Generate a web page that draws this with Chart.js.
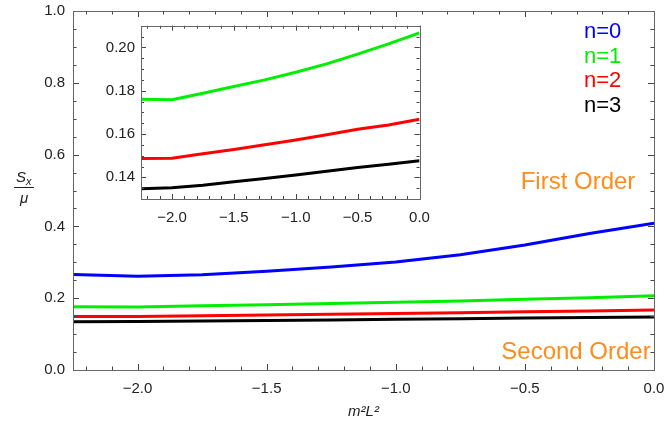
<!DOCTYPE html>
<html>
<head>
<meta charset="utf-8">
<script src="https://cdn.jsdelivr.net/npm/chart.js@4"></script>
<style>
  body { margin: 0; background: #fff; }
  #wrap { position: relative; width: 664px; height: 431px; }
  #main { position: absolute; left: 0; top: 0; }
  #inset { position: absolute; left: 90px; top: 15px; }
</style>
</head>
<body>
<div id="wrap">
  <canvas id="main" width="664" height="431"></canvas>
  <canvas id="inset" width="340" height="220"></canvas>
</div>
<script>
const xVals = [-2.25, -2.0, -1.75, -1.5, -1.25, -1.0, -0.75, -0.5, -0.25, 0];
const n0 = [0.266, 0.261, 0.265, 0.275, 0.287, 0.301, 0.321, 0.348, 0.380, 0.409];
const n1 = [0.1761, 0.1758, 0.1788, 0.1819, 0.1850, 0.1885, 0.1924, 0.1969, 0.2016, 0.2067];
const n2 = [0.1487, 0.1488, 0.1509, 0.1529, 0.1550, 0.1572, 0.1597, 0.1622, 0.1642, 0.1668];
const n3 = [0.1347, 0.1352, 0.1364, 0.1380, 0.1395, 0.1411, 0.1428, 0.1445, 0.1460, 0.1477];

const xMajor = [-2.0, -1.5, -1.0, -0.5, 0];
const yMajor = [0, 0.2, 0.4, 0.6, 0.8, 1.0];
const insetYMajor = [0.14, 0.16, 0.18, 0.20];

const FONT = '"Liberation Sans", Arial, sans-serif';
const colors = ['#0000ff', '#00ee00', '#ff0000', '#000000'];
const labels = ['n=0', 'n=1', 'n=2', 'n=3'];

function range(a, b, step) {
  const out = [];
  for (let v = a; v <= b + 1e-9; v += step) out.push(+v.toFixed(4));
  return out;
}

function series(vals, color, label) {
  return {
    label: label,
    data: xVals.map((x, i) => ({ x: x, y: vals[i] })),
    borderColor: color,
    borderWidth: 3,
    pointRadius: 0,
    tension: 0,
    fill: false
  };
}

function fmtX(v) {
  return v < 0 ? '\u2212' + Math.abs(v).toFixed(1) : v.toFixed(1);
}

// frame and inward ticks on all four sides, like the original
function frameTicks(xMinor, yMinor, xMaj, yMaj, majLen, minLen, whiteBg) {
  return {
    id: 'frameTicks',
    beforeDatasetsDraw(chart) {
      if (!whiteBg) return;
      const a = chart.chartArea;
      chart.ctx.save();
      chart.ctx.fillStyle = '#fff';
      chart.ctx.fillRect(a.left, a.top, a.right - a.left, a.bottom - a.top);
      chart.ctx.restore();
    },
    afterDatasetsDraw(chart) {
      const { ctx, chartArea: a, scales: { x, y } } = chart;
      ctx.save();
      ctx.strokeStyle = '#444';
      ctx.lineWidth = 1;
      ctx.beginPath();
      const tx = (v, len) => {
        const p = Math.round(x.getPixelForValue(v)) + 0.5;
        ctx.moveTo(p, a.bottom); ctx.lineTo(p, a.bottom - len);
        ctx.moveTo(p, a.top); ctx.lineTo(p, a.top + len);
      };
      const ty = (v, len) => {
        const p = Math.round(y.getPixelForValue(v)) + 0.5;
        ctx.moveTo(a.left, p); ctx.lineTo(a.left + len, p);
        ctx.moveTo(a.right, p); ctx.lineTo(a.right - len, p);
      };
      xMinor.forEach(v => tx(v, minLen));
      xMaj.forEach(v => tx(v, majLen));
      yMinor.forEach(v => ty(v, minLen));
      yMaj.forEach(v => ty(v, majLen));
      ctx.stroke();
      ctx.strokeStyle = '#666';
      ctx.strokeRect(Math.round(a.left) + 0.5, Math.round(a.top) + 0.5,
        Math.round(a.right - a.left), Math.round(a.bottom - a.top));
      ctx.restore();
    }
  };
}

const textPlugin = {
  id: 'texts',
  afterDraw(chart) {
    const ctx = chart.ctx;
    ctx.save();
    // legend text
    ctx.font = '22px ' + FONT;
    ctx.textAlign = 'left';
    ctx.textBaseline = 'middle';
    labels.forEach((t, i) => {
      ctx.fillStyle = colors[i];
      ctx.fillText(t, 584, 32 + i * 24.5);
    });
    // order annotations
    ctx.fillStyle = '#ff8c1a';
    ctx.textAlign = 'center';
    ctx.font = '24px ' + FONT;
    ctx.fillText('First Order', 578, 182);
    ctx.fillText('Second Order', 576, 352);
    // y axis title S_x / mu
    ctx.fillStyle = '#222';
    ctx.font = 'italic 15px ' + FONT;
    ctx.textAlign = 'left';
    ctx.fillText('S', 16, 178);
    ctx.font = 'italic 11px ' + FONT;
    ctx.fillText('x', 26, 182);
    ctx.font = 'italic 15px ' + FONT;
    ctx.textAlign = 'center';
    ctx.fillText('\u03bc', 24, 199);
    ctx.strokeStyle = '#222';
    ctx.lineWidth = 1;
    ctx.beginPath();
    ctx.moveTo(14, 187.5);
    ctx.lineTo(34, 187.5);
    ctx.stroke();
    ctx.restore();
  }
};

function fitX(h) {
  return s => { s.height = h; s.paddingLeft = 0; s.paddingRight = 0; };
}
function fitY(w) {
  return s => { s.width = w; s.paddingTop = 0; s.paddingBottom = 0; };
}

new Chart(document.getElementById('main'), {
  type: 'line',
  data: {
    datasets: [series(n0, colors[0], labels[0]), series(n1, colors[1], labels[1]),
               series(n2, colors[2], labels[2]), series(n3, colors[3], labels[3])]
  },
  options: {
    responsive: false,
    animation: false,
    layout: { padding: { top: 11, right: 10, left: 0, bottom: 0 } },
    plugins: { legend: { display: false }, tooltip: { enabled: false } },
    scales: {
      x: {
        type: 'linear', min: -2.25, max: 0,
        grid: { display: false, drawTicks: false },
        border: { display: false },
        afterBuildTicks: s => { s.ticks = xMajor.map(v => ({ value: v })); },
        afterFit: fitX(61),
        ticks: { padding: 10, color: '#222', font: { size: 15, family: FONT }, callback: fmtX, maxRotation: 0, autoSkip: false },
        title: { display: true, text: 'm\u00b2L\u00b2', color: '#222', font: { size: 15, style: 'italic', family: FONT }, padding: { top: 0, bottom: 10 } }
      },
      y: {
        type: 'linear', min: 0, max: 1,
        grid: { display: false, drawTicks: false },
        border: { display: false },
        afterBuildTicks: s => { s.ticks = yMajor.map(v => ({ value: v })); },
        afterFit: fitY(73),
        ticks: { padding: 8, color: '#222', font: { size: 15, family: FONT }, callback: v => v.toFixed(1) }
      }
    }
  },
  plugins: [frameTicks(range(-2.2, 0, 0.1), range(0, 1, 0.05), xMajor, yMajor, 6, 3.5, false), textPlugin]
});

new Chart(document.getElementById('inset'), {
  type: 'line',
  data: {
    datasets: [series(n1, colors[1], labels[1]), series(n2, colors[2], labels[2]), series(n3, colors[3], labels[3])]
  },
  options: {
    responsive: false,
    animation: false,
    layout: { padding: { top: 10.7, right: 10.5, left: 0, bottom: 0 } },
    plugins: { legend: { display: false }, tooltip: { enabled: false } },
    scales: {
      x: {
        type: 'linear', min: -2.25, max: 0,
        grid: { display: false, drawTicks: false },
        border: { display: false },
        afterBuildTicks: s => { s.ticks = xMajor.map(v => ({ value: v })); },
        afterFit: fitX(36),
        ticks: { padding: 10, color: '#222', font: { size: 15, family: FONT }, callback: fmtX, maxRotation: 0, autoSkip: false }
      },
      y: {
        type: 'linear', min: 0.13, max: 0.21,
        grid: { display: false, drawTicks: false },
        border: { display: false },
        afterBuildTicks: s => { s.ticks = insetYMajor.map(v => ({ value: v })); },
        afterFit: fitY(51),
        ticks: { padding: 6, color: '#222', font: { size: 15, family: FONT }, callback: v => v.toFixed(2) }
      }
    }
  },
  plugins: [frameTicks(range(-2.2, 0, 0.1), range(0.13, 0.21, 0.005), xMajor, insetYMajor, 5, 3, true)]
});
</script>
</body>
</html>
